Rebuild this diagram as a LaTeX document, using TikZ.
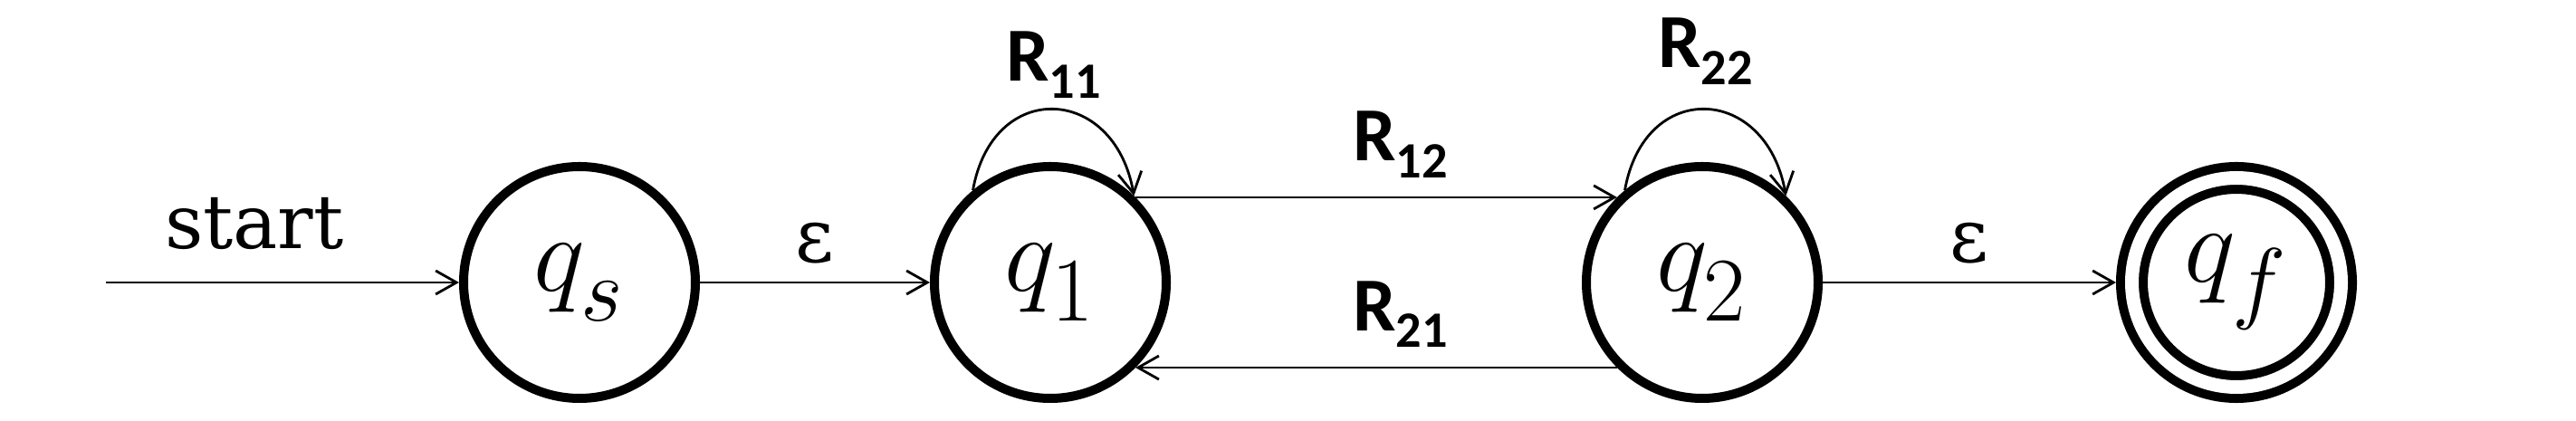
\documentclass[tikz,border=0pt]{standalone}
\usepackage{graphicx}
\usepackage{fontspec}
\setmainfont{DejaVu Serif}
\newfontfamily\calib{Carlito}
\usetikzlibrary{arrows.meta, positioning}
\newcommand{\rlabel}[1]{R\raisebox{-0.22em}{\fontsize{16}{16}\selectfont #1}}
\newcommand{\qlabel}[1]{\scalebox{1.38}{$q_{\raisebox{-0.12em}{$\scriptstyle #1$}}$}}
\tikzset{
  statenode/.style={circle, draw=black, line width=2.85pt, minimum size=2.56cm, inner sep=0pt, font=\fontsize{24.88}{30}\selectfont},
  finalnode/.style={statenode, double, double distance=0.15cm, minimum size=2.31cm, outer sep=0.175cm},
  arrow/.style={-{Straight Barb[length=2.3mm, width=2.6mm]}, line width=0.8pt},
  lab/.style={font=\fontsize{23.5}{28}\selectfont, inner sep=2pt},
  rlab/.style={font=\calib\bfseries\fontsize{24}{28}\selectfont, inner sep=2pt}
}
\begin{document}
\begin{tikzpicture}
\useasboundingbox (0,0) rectangle (28.45,4.65);
% states
\node[statenode] (qs) at (6.40,1.53) {\qlabel{s}};
\node[statenode] (q1) at (11.60,1.53) {\qlabel{1}};
\node[statenode] (q2) at (18.80,1.53) {\qlabel{2}};
\node[finalnode] (qf) at (24.70,1.53) {\qlabel{f}};
\coordinate (init) at (1.17,1.53);
% transitions
\draw[arrow] (init) -- node[lab, above=0.28cm, pos=0.42] {start} (qs);
\draw[arrow] (qs) -- node[lab, above=0.12cm] {ε} (q1);
\draw[arrow] (q2) -- node[lab, above=0.12cm] {ε} (qf);
\draw[arrow] (q1.45) -- node[rlab, above=0.13cm, pos=0.55] {\rlabel{12}} (q2.135);
\draw[arrow] (q2.-135) -- node[rlab, above=0.14cm, pos=0.45] {\rlabel{21}} (q1.-45);
\draw[arrow] (q1.130) .. controls +(80:1.25) and +(100:1.25) .. node[rlab, above=0.04cm] {\rlabel{11}} (q1.46);
\draw[arrow] (q2.130) .. controls +(80:1.25) and +(100:1.25) .. node[rlab, above=0.19cm] {\rlabel{22}} (q2.46);
\end{tikzpicture}
\end{document}
